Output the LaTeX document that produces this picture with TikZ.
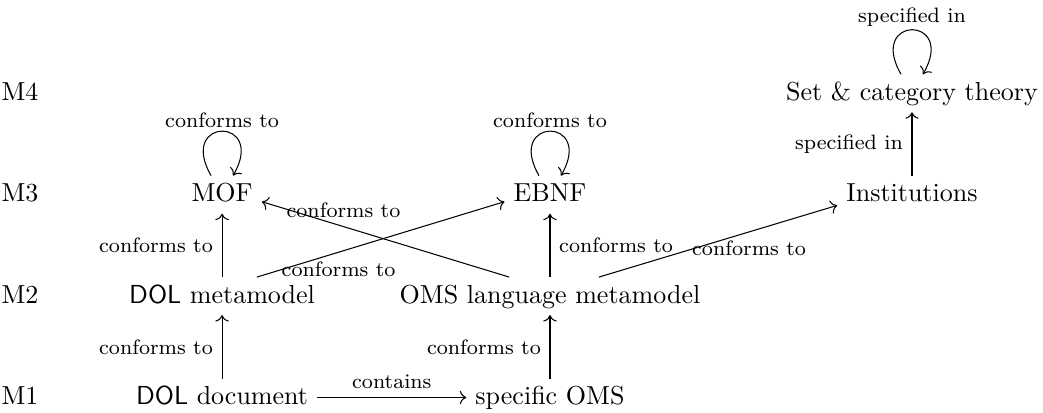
\documentclass[tikz,border=0pt]{standalone}
\usetikzlibrary{positioning}
\usetikzlibrary{arrows.meta}
\tikzset{
    mynode/.style = {align=center,text height=1.5ex,text depth=.25ex},
    mylevel/.style = {text height=1.5ex,text depth=.25ex},
    edgen/.style = {->,black,font=\footnotesize},
    selfloop/.style = {loop,out=120,in=60,looseness=8,min distance=0.85cm},
}
\newcommand{\DOL}{\textsf{DOL}}

\begin{document}
\begin{tikzpicture}[scale=1.00,transform shape]
\useasboundingbox (0,0) rectangle (14.09,5.57);
% levels
\node[mylevel] at (0.27,4.31) (mfour) {M4};
\node[mylevel] at (0.27,2.94) (mthree) {M3};
\node[mylevel] at (0.27,1.57) (mtwo) {M2};
\node[mylevel] at (0.27,0.20) (mone) {M1};

\node[mynode] at (12.32,4.31) (set) {Set \& category theory};
\node[mynode] at (3.00,2.94) (mof) {MOF};
\node[mynode] at (7.43,2.94) (ebnf) {EBNF};
\node[mynode] at (12.32,2.94) (inst) {Institutions};
\node[mynode] at (3.00,1.57) (dolmm) {\DOL{} metamodel};
\node[mynode] at (7.43,1.57) (omsmm) {OMS language metamodel};
\node[mynode] at (3.00,0.20) (doldoc) {\DOL{} document};
\node[mynode] at (7.43,0.20) (oms) {specific OMS};

\draw[edgen] (set) to[selfloop] node[above,inner sep=1pt] {specified in} (set);
\draw[edgen] (mof) to[selfloop] node[above,inner sep=1pt] {conforms to} (mof);
\draw[edgen] (ebnf) to[selfloop] node[above,inner sep=1pt] {conforms to} (ebnf);

\draw[edgen] (inst) -- node[left] {specified in} (set);
\draw[edgen] (dolmm) -- node[left] {conforms to} (mof);
\draw[edgen] (omsmm) -- node[right] {conforms to} (ebnf);
\draw[edgen] (doldoc) -- node[left] {conforms to} (dolmm);
\draw[edgen] (oms) -- node[left] {conforms to} (omsmm);
\draw[edgen] (doldoc) -- node[above] {contains} (oms);

\draw[edgen] ([xshift=0.47cm]dolmm.north) -- node[pos=0.33,below] {conforms to} (ebnf.base west);
\draw[edgen] ([xshift=-0.55cm]omsmm.north) -- node[pos=0.67,above] {conforms to} (mof.base east);
\draw[edgen] ([xshift=0.66cm]omsmm.north) -- node[pos=0.63,below] {conforms to} ([yshift=-0.05cm]inst.base west);

\end{tikzpicture}
\end{document}
